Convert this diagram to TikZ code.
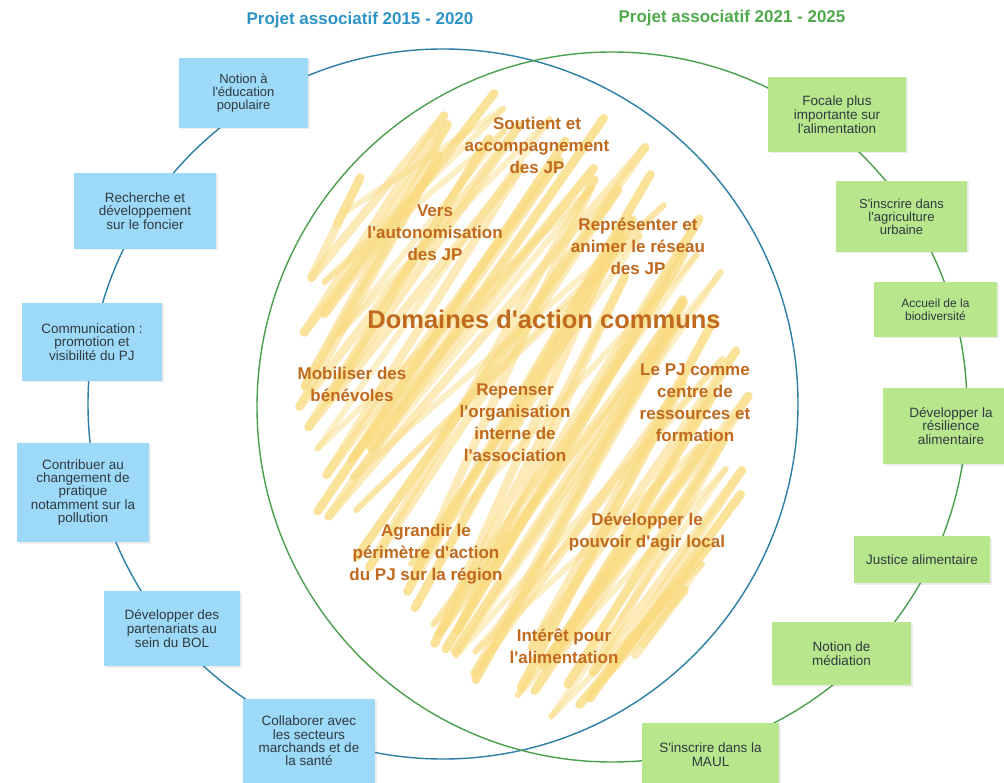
\documentclass[tikz,border=0pt]{standalone}
\usepackage{fontspec}
\setmainfont{Liberation Sans}[Ligatures=TeXOff]
\usetikzlibrary{shadows}
\definecolor{boxblue}{HTML}{9DD9F8}
\definecolor{boxgreen}{HTML}{B7E68C}
\definecolor{lineblue}{HTML}{2B7FA6}
\definecolor{linegreen}{HTML}{4AA04C}
\definecolor{titleblue}{HTML}{2E93C6}
\definecolor{titlegreen}{HTML}{4EAA4A}
\definecolor{orangetxt}{HTML}{C06A1F}
\definecolor{boxtext}{HTML}{2F3A40}
\definecolor{scribcol}{HTML}{FADB80}
\tikzset{
  box/.style={inner sep=0pt, align=center, text=boxtext,
    font=\fontsize{13.5}{13.8}\selectfont,
    drop shadow={opacity=0.15, shadow xshift=1.5pt, shadow yshift=-1.5pt}},
  bbox/.style={box, fill=boxblue},
  gbox/.style={box, fill=boxgreen},
  otext/.style={align=center, text=orangetxt, inner sep=0pt,
    font=\bfseries\fontsize{17}{22}\selectfont},
  ttl/.style={inner sep=0pt, font=\bfseries\fontsize{17}{20}\selectfont},
  scrib/.style={draw=scribcol, line cap=round, line join=round},
  blueline/.style={draw=lineblue, line width=1.4pt},
  greenline/.style={draw=linegreen, line width=1.4pt}
}
% #1 seed, #2 angle, #3 step, #4 count, #5 prefix, #6 width, #7 opacity
\newcommand\scribpass[7]{%
  \pgfmathsetseed{#1}%
  \pgfmathsetmacro\scEx{sin(#2)}%
  \pgfmathsetmacro\scEy{cos(#2)}%
  \foreach \k in {0,...,#4}{%
    \pgfmathsetmacro\scAng{#2+7*rand}%
    \pgfmathsetmacro\scDx{cos(\scAng)}%
    \pgfmathsetmacro\scDy{-sin(\scAng)}%
    \pgfmathsetmacro\scA{(\scDx)*(\scDx)/(2.33*2.33)+(\scDy)*(\scDy)/(3.2*3.2)}%
    \pgfmathsetmacro\scBc{2*((\scEx)*(\scDx)/(2.33*2.33)+(\scEy)*(\scDy)/(3.2*3.2))}%
    \pgfmathsetmacro\scCc{(\scEx)*(\scEx)/(2.33*2.33)+(\scEy)*(\scEy)/(3.2*3.2)}%
    \pgfmathsetmacro\scS{-2.6+#3*\k+0.35*#3*rand}%
    \pgfmathsetmacro\scB{(\scBc)*(\scS)}%
    \pgfmathsetmacro\scC{(\scCc)*(\scS)*(\scS)-1}%
    \pgfmathsetmacro\scD{max((\scB)*(\scB)-4*(\scA)*(\scC),0.0001)}%
    \pgfmathsetmacro\scTm{-(\scB)/(2*(\scA))}%
    \pgfmathsetmacro\scH{sqrt(\scD)/(2*(\scA))}%
    \pgfmathsetmacro\scF{0.78+0.19*rand}%
    \pgfmathsetmacro\scT{mod(\k,2)==1 ? (\scTm)+(\scH)*(\scF) : (\scTm)-(\scH)*(\scF)}%
    \pgfmathsetmacro\scX{522+100*((\scS)*(\scEx)+(\scT)*(\scDx))}%
    \pgfmathsetmacro\scY{405+100*((\scS)*(\scEy)+(\scT)*(\scDy))}%
    \pgfmathsetmacro\scW{max(0,(\scY-500)/220)}%
    \pgfmathsetmacro\scXw{\scX+(560-\scX)*0.42*\scW}%
    \coordinate (#5\k) at (\scXw,\scY);
  }%
  \pgfmathtruncatemacro\scN{#4-1}%
  \foreach \k [count=\j from 1] in {0,...,\scN}{%
    \draw[scrib, line width=#6, opacity=#7] (#5\k) -- (#5\j);
  }%
}
\begin{document}
\begin{tikzpicture}[x=1pt,y=-1pt]
\useasboundingbox[fill=white] (0,0) rectangle (1004,783);

% ---- yellow scribble ----
\scribpass{12}{55}{0.075}{70}{sa}{8.5pt}{0.55}
\scribpass{5}{46}{0.22}{24}{sb}{6pt}{0.45}

% ---- circles ----
\draw[blueline] (443,404) circle[radius=355pt];
\draw[greenline] (612,407) circle[radius=355pt];

% ---- titles ----
\node[ttl, text=titleblue] (t1) at (360,20) {Projet associatif 2015 - 2020};
\node[ttl, text=titlegreen] (t2) at (732,18) {Projet associatif 2021 - 2025};

% ---- blue boxes ----
\node[bbox, minimum width=129pt, minimum height=70pt, font=\fontsize{13}{13}\selectfont] (b1) at (243.5,93) {Notion à\\l'éducation\\populaire};
\node[bbox, minimum width=142pt, minimum height=76pt] (b2) at (145,211) {Recherche et\\développement\\sur le foncier};
\node[bbox, minimum width=140pt, minimum height=78pt] (b3) at (92,342) {Communication :\\promotion et\\visibilité du PJ};
\node[bbox, minimum width=132pt, minimum height=99pt, font=\fontsize{13.5}{13.3}\selectfont] (b4) at (83,492.5) {Contribuer au\\changement de\\pratique\\notamment sur la\\pollution};
\node[bbox, minimum width=136pt, minimum height=75pt] (b5) at (172,628.5) {Développer des\\partenariats au\\sein du BOL};
\node[bbox, minimum width=132pt, minimum height=84pt, font=\fontsize{13.5}{13.3}\selectfont] (b6) at (309,741) {Collaborer avec\\les secteurs\\marchands et de\\la santé};

% ---- green boxes ----
\node[gbox, minimum width=138pt, minimum height=75pt] (g1) at (837,114.5) {Focale plus\\importante sur\\l'alimentation};
\node[gbox, minimum width=131pt, minimum height=71pt, font=\fontsize{13}{13}\selectfont] (g2) at (901.5,216.5) {S'inscrire dans\\l'agriculture\\urbaine};
\node[gbox, minimum width=123pt, minimum height=55pt, font=\fontsize{12}{13}\selectfont] (g3) at (935.5,309.5) {Accueil de la\\biodiversité};
\node[gbox, minimum width=136pt, minimum height=76pt] (g4) at (951,426) {Développer la\\résilience\\alimentaire};
\node[gbox, minimum width=136pt, minimum height=47pt] (g5) at (922,559.5) {Justice alimentaire};
\node[gbox, minimum width=139pt, minimum height=63pt] (g6) at (841.5,653.5) {Notion de\\médiation};
\node[gbox, minimum width=137pt, minimum height=64pt] (g7) at (710.5,755) {S'inscrire dans la\\MAUL};

% ---- orange texts ----
\node[otext] (o1) at (537,145) {Soutient et\\accompagnement\\des JP};
\node[otext] (o2) at (435,233) {Vers\\l'autonomisation\\des JP};
\node[otext] (o3) at (638,246) {Représenter et\\animer le réseau\\des JP};
\node[otext, font=\bfseries\fontsize{25.5}{28}\selectfont] (o4) at (544,319) {Domaines d'action communs};
\node[otext] (o5) at (352,384.5) {Mobiliser des\\bénévoles};
\node[otext] (o6) at (515,423) {Repenser\\l'organisation\\interne de\\l'association};
\node[otext] (o7) at (695,403) {Le PJ comme\\centre de\\ressources et\\formation};
\node[otext] (o8) at (426,554) {Agrandir le\\périmètre d'action\\du PJ sur la région};
\node[otext] (o9) at (647,532) {Développer le\\pouvoir d'agir local};
\node[otext] (o10) at (564,646) {Intérêt pour\\l'alimentation};
\end{tikzpicture}
\end{document}
